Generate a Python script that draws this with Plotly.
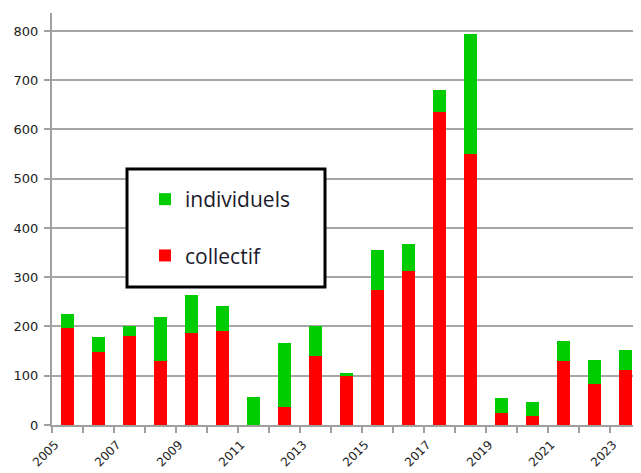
import plotly.graph_objects as go

years = list(range(2005, 2024))
collectif = [197, 148, 181, 129, 186, 191, 0, 36, 140, 99, 274, 313, 636, 551, 24, 18, 129, 83, 112]
individuels = [28, 30, 19, 91, 77, 50, 56, 130, 60, 7, 82, 54, 44, 242, 30, 28, 42, 49, 40]
label_years = [y for y in years if y % 2 == 1]
y_ticks = [0, 100, 200, 300, 400, 500, 600, 700, 800]

OFF = 8  # page body margin
W, H = 641 - OFF, 473 - OFF
ml, mr, mt, mb = 52 - OFF, 0, 13 - OFF, 473 - 425
pw, ph = W - ml - mr, H - mt - mb

def px_x(p):
    return (p - OFF - ml) / pw

def px_y(p):
    return (H - mb - (p - OFF)) / ph

fig = go.Figure()
fig.add_trace(go.Bar(x=years, y=collectif, name="collectif", marker=dict(color="#ff0000", line=dict(width=0)),
                     legendgroup="c", legendrank=2))
fig.add_trace(go.Bar(x=years, y=individuels, name="individuels", marker=dict(color="#00cc00", line=dict(width=0)),
                     legendgroup="i", legendrank=1))

fig.update_layout(
    width=W, height=H,
    margin=dict(l=ml, r=mr, t=mt, b=mb, pad=0, autoexpand=False),
    barmode="stack",
    bargap=0.58,
    plot_bgcolor="white",
    paper_bgcolor="white",
    font=dict(family="DejaVu Sans", size=13, color="#222222"),
    showlegend=True,
    legend=dict(
        x=px_x(145), y=px_y(179), xanchor="left", yanchor="top",
        traceorder="grouped", tracegroupgap=26,
        font=dict(family="Open Sans", size=21, color="#1a1a2a"),
        bgcolor="rgba(0,0,0,0)", borderwidth=0,
    ),
    shapes=[dict(type="rect", xref="paper", yref="paper",
                 x0=px_x(127), x1=px_x(325), y0=px_y(287), y1=px_y(169),
                 line=dict(color="black", width=3), fillcolor="white", layer="above")],
)

fig.update_xaxes(
    automargin=False,
    range=[2004.5, 2023.5],
    tickmode="array",
    tickvals=[y - 0.4 for y in label_years],
    ticktext=[str(y) for y in label_years],
    tickangle=-45,
    ticks="",
    ticklabelstandoff=6,
    tickfont=dict(size=12),
    showgrid=False,
    showline=True, linecolor="#a0a0a0", linewidth=2,
    minor=dict(tick0=2004.5, dtick=1, ticks="outside", ticklen=6, tickcolor="#a0a0a0", tickwidth=1.5, showgrid=False),
    zeroline=False,
)
fig.update_yaxes(
    automargin=False,
    range=[0, 836.5],
    tickmode="array",
    tickvals=y_ticks,
    ticks="outside", ticklen=6, tickcolor="#a0a0a0", tickwidth=1.5,
    ticklabelstandoff=3,
    tickfont=dict(size=13),
    showgrid=True, gridcolor="#a6a6a6", gridwidth=1.5,
    showline=True, linecolor="#a0a0a0", linewidth=2,
    zeroline=False,
)

fig.write_html("out.html")
